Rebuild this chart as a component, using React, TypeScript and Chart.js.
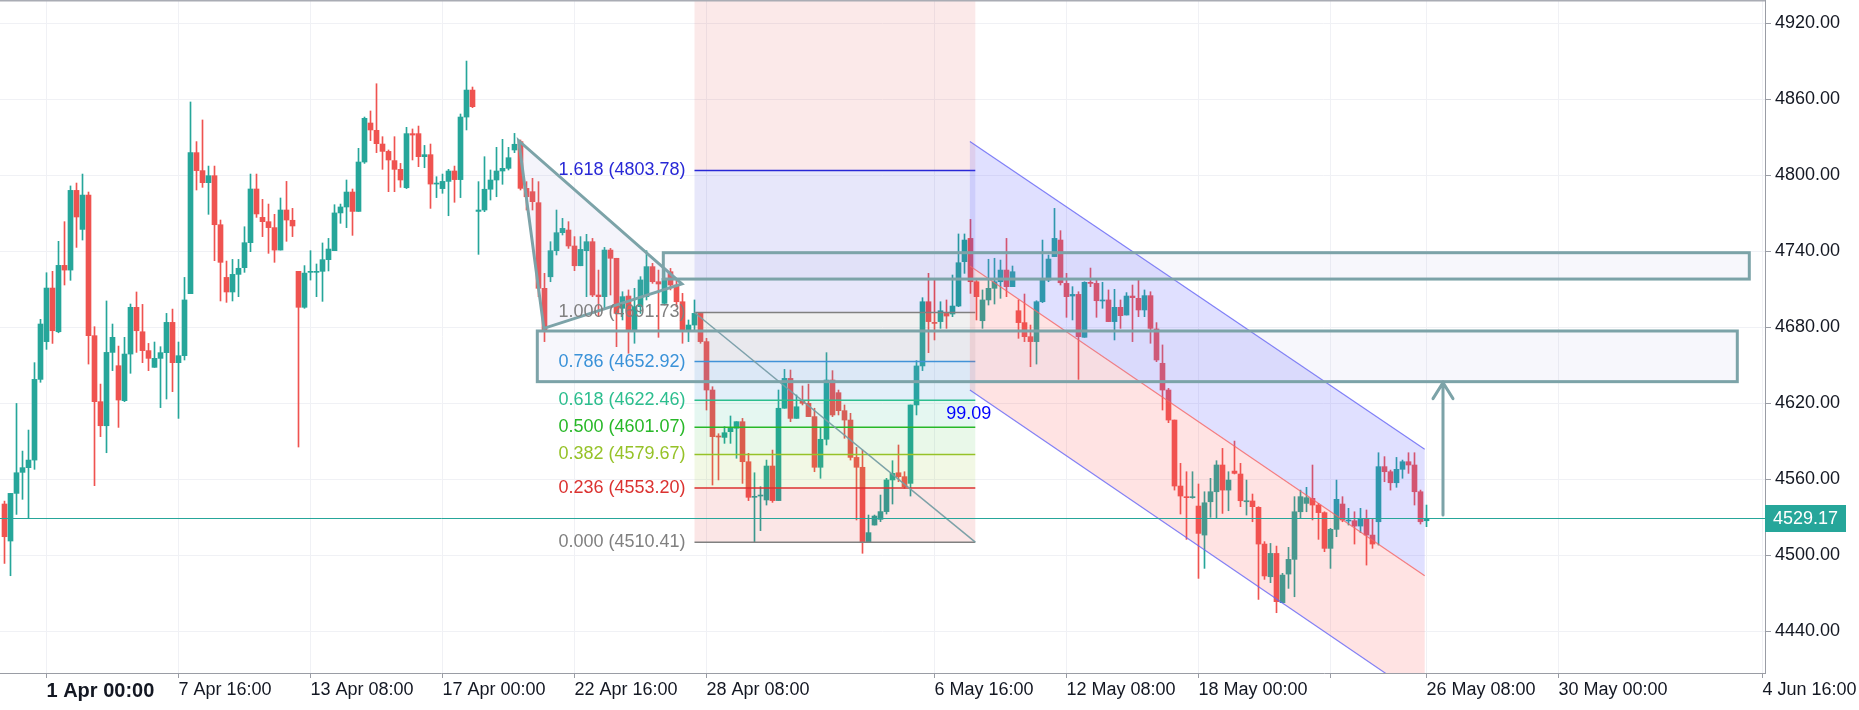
import React, { useEffect, useRef } from 'react';
import { Chart, registerables } from 'chart.js';

Chart.register(...registerables);

// ---------------- DATA ----------------
const FIRST_BAR = -7; // bar index of first candle (0 = "1 Apr 00:00")

const OPENS = [
  4540.5, 4511.3, 4548.9, 4565.5, 4569.2, 4575.2, 4638.9,
  4668.7, 4711.0, 4676.5, 4728.9, 4725.2, 4788.1, 4757.3, 4784.4, 4673.4, 4621.3,
  4602.3, 4660.2, 4649.7, 4622.1, 4658.9, 4695.8, 4676.5, 4661.6, 4648.4, 4655.5,
  4660.0, 4683.9, 4652.1, 4657.6, 4706.6, 4817.9, 4803.7, 4794.2, 4799.7, 4761.0,
  4719.4, 4707.9, 4721.8, 4727.1, 4746.8, 4789.2, 4766.8, 4763.4, 4758.7, 4741.0,
  4772.6, 4764.5, 4724.2, 4695.8, 4723.4, 4723.4, 4724.2, 4733.4, 4740.5, 4770.3,
  4775.0, 4786.8, 4771.5, 4810.5, 4841.3, 4835.5, 4824.7, 4818.9, 4811.6, 4804.7,
  4790.2, 4832.9, 4832.9, 4814.7, 4816.3, 4793.1, 4789.5, 4795.2, 4803.4, 4796.6,
  4846.0, 4867.3, 4771.5, 4772.6, 4789.0, 4796.3, 4803.4, 4805.5, 4820.0, 4826.6,
  4789.7, 4787.1, 4778.4, 4710.8, 4719.9, 4740.5, 4754.7, 4756.8, 4744.2, 4728.6,
  4740.5, 4747.6, 4705.5, 4704.2, 4741.0, 4734.5, 4695.0, 4704.7, 4677.9, 4696.3,
  4704.2, 4727.9, 4716.0, 4698.9, 4723.9, 4713.4, 4700.2, 4677.9, 4681.8, 4691.0,
  4668.7, 4630.5, 4594.2, 4593.1, 4597.6, 4600.3, 4605.5, 4573.9, 4545.8, 4546.8,
  4543.7, 4570.5, 4543.2, 4616.1, 4639.7, 4608.1, 4622.1, 4620.0, 4609.5, 4569.5,
  4591.6, 4638.4, 4628.4, 4614.2, 4606.8, 4577.3, 4569.5, 4510.8, 4523.9, 4528.4,
  4534.5, 4559.5, 4565.2, 4562.1, 4556.8, 4618.7, 4649.5, 4700.2, 4683.7, 4684.5,
  4691.0, 4690.5, 4696.8, 4731.8, 4750.2, 4716.0, 4685.2, 4701.6, 4710.8, 4716.0,
  4725.2, 4712.1, 4693.1, 4683.7, 4672.6, 4668.7, 4700.2, 4717.3, 4735.8, 4748.9,
  4714.7, 4704.7, 4706.0, 4672.1, 4715.5, 4714.7, 4700.8, 4701.6, 4684.5, 4695.8,
  4689.7, 4704.7, 4702.9, 4693.7, 4705.0, 4678.7, 4651.6, 4630.5, 4606.8, 4554.7,
  4546.3, 4545.5, 4538.9, 4516.0, 4542.3, 4550.2, 4571.3, 4551.5, 4566.5, 4564.2,
  4542.3, 4542.9, 4537.9, 4508.9, 4483.1, 4501.5, 4462.6, 4485.2, 4496.8, 4534.4,
  4541.0, 4545.0, 4539.7, 4533.7, 4505.5, 4520.5, 4540.5, 4527.1, 4527.3, 4523.1,
  4529.2, 4516.0, 4526.5, 4570.0, 4566.0, 4557.3, 4567.9, 4573.9, 4571.3, 4550.2,
  4527.3,
];

const HIGHS = [
  4542.8, 4548.9, 4619.9, 4582.3, 4598.9, 4652.1, 4686.3,
  4723.1, 4724.2, 4747.9, 4763.4, 4791.6, 4793.9, 4801.0, 4786.8, 4680.5, 4635.2,
  4700.8, 4682.6, 4665.2, 4672.1, 4698.4, 4707.9, 4698.1, 4667.3, 4668.4, 4664.7,
  4691.0, 4694.4, 4668.4, 4719.4, 4857.9, 4826.6, 4843.7, 4807.3, 4807.3, 4764.7,
  4732.3, 4733.6, 4733.6, 4759.4, 4801.0, 4801.0, 4781.0, 4777.3, 4769.2, 4782.1,
  4795.2, 4773.9, 4724.2, 4728.7, 4740.5, 4730.0, 4746.6, 4750.2, 4776.8, 4777.3,
  4796.3, 4789.2, 4821.3, 4846.0, 4850.8, 4872.3, 4830.5, 4820.0, 4830.5, 4809.4,
  4837.9, 4836.6, 4838.9, 4823.6, 4824.7, 4798.9, 4801.0, 4804.7, 4807.3, 4848.4,
  4890.2, 4869.7, 4795.0, 4814.7, 4804.2, 4822.1, 4828.4, 4822.1, 4833.1, 4827.9,
  4795.0, 4797.6, 4795.0, 4722.6, 4747.6, 4772.6, 4766.0, 4763.4, 4751.6, 4751.6,
  4753.4, 4750.2, 4725.2, 4743.1, 4742.3, 4734.5, 4708.1, 4709.5, 4710.8, 4720.0,
  4740.5, 4730.5, 4725.2, 4725.2, 4726.5, 4717.3, 4706.8, 4685.8, 4701.6, 4691.0,
  4671.3, 4633.1, 4596.0, 4601.6, 4610.0, 4605.5, 4608.1, 4580.5, 4565.2, 4554.2,
  4575.2, 4583.1, 4630.5, 4646.8, 4646.3, 4626.6, 4633.7, 4635.2, 4616.1, 4600.3,
  4660.0, 4645.8, 4630.5, 4618.7, 4612.1, 4585.2, 4583.1, 4531.8, 4531.8, 4547.6,
  4560.8, 4574.7, 4587.1, 4566.0, 4618.7, 4653.7, 4703.4, 4722.6, 4717.3, 4700.2,
  4701.6, 4721.3, 4753.7, 4753.7, 4765.2, 4718.7, 4709.5, 4733.7, 4734.5, 4733.1,
  4750.2, 4728.4, 4701.6, 4706.3, 4681.8, 4701.0, 4748.9, 4737.1, 4773.9, 4756.3,
  4722.6, 4712.1, 4708.1, 4716.0, 4726.8, 4717.9, 4715.5, 4709.5, 4710.0, 4701.6,
  4707.4, 4713.4, 4717.3, 4709.5, 4708.1, 4683.7, 4666.1, 4631.8, 4606.8, 4572.6,
  4566.0, 4566.0, 4556.3, 4550.2, 4560.8, 4574.7, 4584.4, 4566.0, 4590.2, 4572.6,
  4559.4, 4548.4, 4538.4, 4510.8, 4509.4, 4507.3, 4485.8, 4506.3, 4546.3, 4551.5,
  4553.7, 4571.3, 4541.0, 4534.4, 4521.3, 4559.4, 4546.3, 4537.1, 4534.4, 4537.1,
  4535.8, 4529.2, 4581.0, 4577.9, 4567.3, 4577.3, 4575.2, 4581.0, 4581.0, 4551.5,
  4539.7,
];

const LOWS = [
  4493.6, 4483.9, 4532.3, 4544.2, 4529.7, 4567.9, 4636.6,
  4662.6, 4667.3, 4675.7, 4713.4, 4717.1, 4743.1, 4748.9, 4651.0, 4555.0, 4593.7,
  4581.0, 4645.8, 4601.0, 4621.3, 4643.7, 4660.2, 4652.1, 4645.8, 4648.4, 4616.6,
  4623.4, 4629.2, 4608.1, 4654.2, 4706.6, 4788.4, 4790.5, 4769.2, 4732.6, 4700.8,
  4699.7, 4700.8, 4704.2, 4723.4, 4739.7, 4766.8, 4751.6, 4738.4, 4731.3, 4741.0,
  4747.9, 4751.6, 4585.5, 4695.0, 4717.3, 4704.2, 4700.5, 4724.5, 4740.5, 4762.1,
  4758.7, 4752.6, 4771.5, 4809.4, 4827.4, 4817.9, 4804.7, 4787.1, 4787.1, 4790.5,
  4789.5, 4812.1, 4806.8, 4806.0, 4773.9, 4782.4, 4785.8, 4768.1, 4778.7, 4782.4,
  4835.8, 4853.4, 4737.6, 4771.3, 4780.5, 4783.1, 4792.9, 4804.2, 4817.9, 4788.4,
  4772.6, 4772.6, 4704.2, 4668.7, 4716.0, 4737.1, 4752.9, 4742.3, 4724.7, 4728.6,
  4704.2, 4704.2, 4688.4, 4695.0, 4705.5, 4664.7, 4685.8, 4659.5, 4667.4, 4691.0,
  4701.6, 4714.7, 4672.1, 4697.6, 4709.5, 4696.3, 4667.4, 4668.7, 4677.9, 4667.4,
  4614.7, 4555.5, 4559.5, 4588.4, 4588.4, 4576.6, 4556.8, 4543.2, 4510.8, 4519.5,
  4539.7, 4541.8, 4543.2, 4616.1, 4605.5, 4608.1, 4618.7, 4609.5, 4566.0, 4560.8,
  4587.1, 4609.5, 4610.8, 4592.4, 4575.2, 4527.9, 4501.6, 4510.8, 4523.9, 4526.6,
  4532.6, 4540.5, 4558.1, 4552.9, 4546.8, 4610.8, 4645.8, 4660.0, 4670.0, 4679.2,
  4679.2, 4688.4, 4696.3, 4722.6, 4706.8, 4685.8, 4679.2, 4697.6, 4698.4, 4702.9,
  4704.2, 4712.1, 4671.3, 4668.7, 4648.9, 4651.0, 4699.5, 4716.0, 4735.8, 4713.4,
  4687.9, 4685.8, 4638.9, 4672.1, 4712.1, 4687.9, 4695.0, 4684.5, 4670.0, 4679.2,
  4689.7, 4668.7, 4688.4, 4688.4, 4667.4, 4652.9, 4614.7, 4604.7, 4551.5, 4532.6,
  4512.6, 4545.0, 4481.8, 4489.7, 4530.0, 4529.2, 4533.1, 4535.2, 4564.2, 4538.4,
  4531.8, 4526.5, 4465.2, 4481.0, 4478.4, 4454.7, 4462.6, 4473.9, 4467.3, 4529.2,
  4534.4, 4527.9, 4512.6, 4502.9, 4489.7, 4514.7, 4526.5, 4523.9, 4508.9, 4517.9,
  4492.3, 4505.5, 4508.1, 4558.1, 4551.5, 4553.7, 4560.8, 4564.7, 4539.7, 4524.7,
  4522.6,
];

const CLOSES = [
  4514.7, 4548.9, 4565.2, 4569.2, 4575.2, 4638.9, 4682.6,
  4711.0, 4677.3, 4728.9, 4725.2, 4788.1, 4767.1, 4784.4, 4673.4, 4621.3, 4602.3,
  4660.2, 4672.1, 4622.6, 4658.9, 4695.8, 4677.3, 4661.6, 4655.5, 4655.5, 4660.0,
  4683.9, 4652.1, 4657.6, 4701.6, 4817.9, 4803.7, 4794.2, 4799.7, 4761.0, 4731.3,
  4707.9, 4721.8, 4726.6, 4746.8, 4789.2, 4769.5, 4763.4, 4758.7, 4741.0, 4772.6,
  4764.7, 4760.0, 4695.8, 4722.8, 4724.2, 4724.2, 4733.4, 4741.8, 4770.3, 4775.0,
  4786.8, 4771.5, 4810.5, 4845.0, 4835.8, 4825.0, 4818.9, 4812.1, 4804.7, 4796.3,
  4832.9, 4831.8, 4814.7, 4816.3, 4793.1, 4793.7, 4795.2, 4803.4, 4796.6, 4846.0,
  4867.3, 4854.2, 4772.6, 4789.0, 4796.3, 4803.4, 4805.5, 4813.9, 4824.5, 4789.7,
  4783.1, 4779.2, 4710.8, 4677.9, 4740.5, 4754.7, 4758.1, 4744.2, 4728.6, 4741.5,
  4747.6, 4705.5, 4704.2, 4741.0, 4734.5, 4691.0, 4704.2, 4677.9, 4696.3, 4717.4,
  4727.9, 4716.0, 4714.2, 4718.7, 4713.4, 4700.2, 4677.9, 4681.8, 4691.0, 4668.7,
  4630.5, 4593.7, 4593.4, 4596.8, 4600.3, 4605.5, 4573.9, 4545.8, 4546.3, 4547.4,
  4570.5, 4543.2, 4616.1, 4639.7, 4608.1, 4617.3, 4620.0, 4609.5, 4569.5, 4591.6,
  4638.4, 4610.8, 4614.2, 4606.8, 4577.3, 4569.5, 4510.8, 4517.9, 4531.0, 4534.5,
  4559.5, 4564.7, 4562.1, 4554.2, 4618.7, 4649.5, 4700.2, 4684.5, 4683.1, 4693.1,
  4688.9, 4696.8, 4731.0, 4748.9, 4716.0, 4704.2, 4701.6, 4710.8, 4716.0, 4725.2,
  4712.1, 4723.9, 4683.7, 4672.6, 4668.7, 4700.2, 4717.3, 4733.9, 4750.2, 4715.2,
  4704.2, 4706.0, 4672.6, 4715.5, 4714.7, 4701.0, 4701.6, 4684.5, 4695.8, 4689.2,
  4704.7, 4703.4, 4693.7, 4705.0, 4679.2, 4654.2, 4630.5, 4606.8, 4554.7, 4546.8,
  4545.5, 4546.3, 4517.3, 4541.5, 4550.2, 4571.3, 4551.5, 4559.4, 4564.7, 4543.1,
  4543.1, 4538.4, 4508.9, 4483.7, 4501.5, 4463.4, 4484.4, 4496.8, 4534.4, 4546.3,
  4545.5, 4539.7, 4533.7, 4505.5, 4520.5, 4544.2, 4527.9, 4527.9, 4523.1, 4529.2,
  4516.0, 4508.9, 4570.0, 4566.0, 4557.3, 4567.9, 4573.9, 4571.3, 4550.2, 4526.5,
  4529.2,
];

const PRICE_TICKS = [4440, 4500, 4560, 4620, 4680, 4740, 4800, 4860, 4920];
const PRICE_MIN = 4407.1;
const PRICE_MAX = 4938.4;

const TIME_TICK_BARS = [0, 22, 44, 66, 88, 110, 148, 170, 192, 214, 230, 252, 286];
const TIME_TICK_LABELS = [
  '1 Apr 00:00', '7 Apr 16:00', '13 Apr 08:00', '17 Apr 00:00', '22 Apr 16:00',
  '28 Apr 08:00', '6 May 16:00', '12 May 08:00', '18 May 00:00', '',
  '26 May 08:00', '30 May 00:00', '4 Jun 16:00',
];
const BAR_MIN = -7.75;
const BAR_MAX = 286.417;

const LAST_PRICE = 4529.17;

// Fibonacci retracement (anchored bars, level ratios and prices)
const FIB_BARS = [108, 154.8];
const FIB_RATIOS = ['0.000', '0.236', '0.382', '0.500', '0.618', '0.786', '1.000', '1.618', '2.618'];
const FIB_PRICES = [4510.41, 4553.2, 4579.67, 4601.07, 4622.46, 4652.92, 4691.73, 4803.78, 4985.1];
const FIB_COLORS = [
  [128, 128, 128], [219, 50, 48], [150, 194, 40], [40, 184, 40], [44, 190, 142],
  [58, 146, 216], [128, 128, 128], [40, 40, 214], [219, 58, 52],
];
const FIB_FILL_ALPHA = [0, 0.12, 0.12, 0.1, 0.12, 0.15, 0.12, 0.11, 0.11];

// Triangle pattern vertices [bar, price]
const TRIANGLE = [[78.7, 4827.3], [82.9, 4679.2], [105.9, 4714.2]];
// Zones [barStart, barEnd, priceLow, priceHigh]
const ZONES = [[102.8, 283.8, 4718.1, 4738.9], [81.8, 281.8, 4637.1, 4677.1]];
// Parallel channel
const CHANNEL_BARS = [153.9, 229.7];
const CHANNEL_UPPER = [4826.6, 4583.7];
const CHANNEL_MID = [4728.4, 4483.9];
const CHANNEL_LOWER = [4630.5, 4385.8];
const CHANNEL_NOTE = { bar: 153.7, price: 4611.5, text: '99.09' };
// Target arrow
const ARROW = { bar: 232.75, from: 4531.8, to: 4637.1 };

// ---------------- STYLE ----------------
const UP = '#26a69a';
const DOWN = '#ef5350';
const FONT = '"Liberation Sans", Arial, sans-serif';
const DRAW = 'rgb(124,163,168)';

function rgba(c: number[], a: number) {
  return `rgba(${c[0]},${c[1]},${c[2]},${a})`;
}

const drawingsPlugin = {
  id: 'drawings',
  afterDatasetsDraw(chart: any) {
    const { ctx, chartArea: a } = chart;
    const xs = chart.scales.x;
    const ys = chart.scales.y;
    const X = (b: number) => xs.getPixelForValue(b);
    const Y = (p: number) => ys.getPixelForValue(p);

    ctx.save();
    ctx.beginPath();
    ctx.rect(a.left, a.top, a.right - a.left, a.bottom - a.top);
    ctx.clip();

    // ---- Fib retracement ----
    const fx0 = X(FIB_BARS[0]);
    const fx1 = X(FIB_BARS[1]);
    for (let k = 1; k < FIB_PRICES.length; k++) {
      const yt = Y(FIB_PRICES[k]);
      const yb = Y(FIB_PRICES[k - 1]);
      ctx.fillStyle = rgba(FIB_COLORS[k], FIB_FILL_ALPHA[k]);
      ctx.fillRect(fx0, yt, fx1 - fx0, yb - yt);
    }
    ctx.lineWidth = 1.5;
    for (let k = 0; k < FIB_PRICES.length; k++) {
      const yy = Y(FIB_PRICES[k]);
      if (yy < a.top || yy > a.bottom) continue;
      ctx.strokeStyle = rgba(FIB_COLORS[k], 1);
      ctx.beginPath();
      ctx.moveTo(fx0, yy);
      ctx.lineTo(fx1, yy);
      ctx.stroke();
    }
    // trend line of the fib
    ctx.strokeStyle = 'rgba(118,158,164,0.95)';
    ctx.lineWidth = 1.5;
    ctx.beginPath();
    ctx.moveTo(fx0, Y(FIB_PRICES[6]));
    ctx.lineTo(fx1, Y(FIB_PRICES[0]));
    ctx.stroke();

    // ---- Channel ----
    const cx0 = X(CHANNEL_BARS[0]);
    const cx1 = X(CHANNEL_BARS[1]);
    ctx.fillStyle = 'rgba(90,90,255,0.19)';
    ctx.beginPath();
    ctx.moveTo(cx0, Y(CHANNEL_UPPER[0]));
    ctx.lineTo(cx1, Y(CHANNEL_UPPER[1]));
    ctx.lineTo(cx1, Y(CHANNEL_MID[1]));
    ctx.lineTo(cx0, Y(CHANNEL_MID[0]));
    ctx.closePath();
    ctx.fill();
    ctx.fillStyle = 'rgba(255,82,82,0.16)';
    ctx.beginPath();
    ctx.moveTo(cx0, Y(CHANNEL_MID[0]));
    ctx.lineTo(cx1, Y(CHANNEL_MID[1]));
    ctx.lineTo(cx1, Y(CHANNEL_LOWER[1]));
    ctx.lineTo(cx0, Y(CHANNEL_LOWER[0]));
    ctx.closePath();
    ctx.fill();
    ctx.lineWidth = 1.2;
    const chLine = (p: number[], color: string) => {
      ctx.strokeStyle = color;
      ctx.beginPath();
      ctx.moveTo(cx0, Y(p[0]));
      ctx.lineTo(cx1, Y(p[1]));
      ctx.stroke();
    };
    chLine(CHANNEL_UPPER, 'rgba(100,100,245,0.8)');
    chLine(CHANNEL_MID, 'rgba(245,100,100,0.8)');
    chLine(CHANNEL_LOWER, 'rgba(100,100,245,0.8)');

    // ---- Triangle ----
    ctx.beginPath();
    ctx.moveTo(X(TRIANGLE[0][0]), Y(TRIANGLE[0][1]));
    for (let k = 1; k < TRIANGLE.length; k++) ctx.lineTo(X(TRIANGLE[k][0]), Y(TRIANGLE[k][1]));
    ctx.closePath();
    ctx.fillStyle = 'rgba(150,150,215,0.1)';
    ctx.fill();
    ctx.strokeStyle = DRAW;
    ctx.lineWidth = 3;
    ctx.lineJoin = 'miter';
    ctx.stroke();

    // ---- Zones ----
    for (const z of ZONES) {
      const x0 = X(z[0]);
      const x1 = X(z[1]);
      const y0 = Y(z[3]);
      const y1 = Y(z[2]);
      ctx.fillStyle = 'rgba(150,150,215,0.08)';
      ctx.fillRect(x0, y0, x1 - x0, y1 - y0);
      ctx.strokeStyle = DRAW;
      ctx.lineWidth = 3;
      ctx.strokeRect(x0, y0, x1 - x0, y1 - y0);
    }

    // ---- Last price line ----
    const ly = Math.round(Y(LAST_PRICE)) + 0.5;
    ctx.strokeStyle = UP;
    ctx.lineWidth = 1;
    ctx.beginPath();
    ctx.moveTo(a.left, ly);
    ctx.lineTo(a.right, ly);
    ctx.stroke();

    // ---- Arrow ----
    const ax = X(ARROW.bar);
    const ay0 = Y(ARROW.from);
    const ay1 = Y(ARROW.to);
    ctx.strokeStyle = DRAW;
    ctx.lineWidth = 3;
    ctx.lineCap = 'round';
    ctx.beginPath();
    ctx.moveTo(ax, ay0);
    ctx.lineTo(ax, ay1 + 1);
    ctx.moveTo(ax - 10, ay1 + 17);
    ctx.lineTo(ax, ay1 + 1);
    ctx.lineTo(ax + 10, ay1 + 17);
    ctx.stroke();
    ctx.lineCap = 'butt';

    ctx.restore();

    // ---- Texts ----
    ctx.save();
    ctx.font = `18px ${FONT}`;
    ctx.textAlign = 'right';
    ctx.textBaseline = 'middle';
    for (let k = 0; k < FIB_PRICES.length; k++) {
      const yy = Y(FIB_PRICES[k]);
      if (yy < a.top || yy > a.bottom) continue;
      ctx.fillStyle = rgba(FIB_COLORS[k], 1);
      ctx.fillText(`${FIB_RATIOS[k]} (${FIB_PRICES[k].toFixed(2)})`, fx0 - 9, yy);
    }
    ctx.fillStyle = '#0000ff';
    ctx.textAlign = 'center';
    ctx.fillText(CHANNEL_NOTE.text, X(CHANNEL_NOTE.bar), Y(CHANNEL_NOTE.price));
    ctx.restore();
  },
  afterDraw(chart: any) {
    const { ctx, chartArea: a } = chart;
    const ys = chart.scales.y;
    const yy = ys.getPixelForValue(LAST_PRICE);
    ctx.save();
    // top border
    ctx.strokeStyle = '#a9acb4';
    ctx.lineWidth = 1.5;
    ctx.beginPath();
    ctx.moveTo(0, 0.75);
    ctx.lineTo(a.right, 0.75);
    ctx.stroke();
    // last price label
    ctx.fillStyle = UP;
    ctx.fillRect(a.right, Math.round(yy - 13.5), 81, 27);
    ctx.fillStyle = '#ffffff';
    ctx.font = `18px ${FONT}`;
    ctx.textAlign = 'left';
    ctx.textBaseline = 'middle';
    ctx.fillText(LAST_PRICE.toFixed(2), a.right + 8, yy + 1);
    ctx.restore();
  },
};

export default function App() {
  const ref = useRef<HTMLCanvasElement | null>(null);

  useEffect(() => {
    document.body.style.margin = '0';
    const canvas = ref.current;
    if (!canvas) return;

    const bars = OPENS.map((_, k) => FIRST_BAR + k);
    const bodies = bars.map((b, k) => ({ x: b, y: [OPENS[k], CLOSES[k]] }));
    const wicks = bars.map((b, k) => ({ x: b, y: [LOWS[k], HIGHS[k]] }));
    const colorFor = (ctx: any) => {
      const k = ctx.dataIndex;
      return CLOSES[k] >= OPENS[k] ? UP : DOWN;
    };

    const chart = new Chart(canvas, {
      type: 'bar',
      data: {
        datasets: [
          {
            data: bodies as any,
            backgroundColor: colorFor,
            borderWidth: 0,
            grouped: false,
            barPercentage: 1,
            categoryPercentage: 1,
            maxBarThickness: 5,
            minBarLength: 1,
            order: 1,
          } as any,
          {
            data: wicks as any,
            backgroundColor: colorFor,
            borderWidth: 0,
            grouped: false,
            barPercentage: 1,
            categoryPercentage: 1,
            maxBarThickness: 1,
            minBarLength: 1,
            order: 2,
          } as any,
        ],
      },
      options: {
        responsive: false,
        animation: false,
        devicePixelRatio: 1,
        events: [],
        layout: { padding: 0 },
        plugins: {
          legend: { display: false },
          tooltip: { enabled: false },
        },
        scales: {
          x: {
            type: 'linear',
            position: 'bottom',
            min: BAR_MIN,
            max: BAR_MAX,
            offset: false,
            grid: {
              color: '#f0f1f5',
              tickColor: '#9a9da5',
              tickLength: 5,
              drawTicks: true,
              offset: false,
            },
            border: { display: true, color: '#9a9da5', width: 1 },
            ticks: {
              autoSkip: false,
              maxRotation: 0,
              minRotation: 0,
              align: 'start',
              padding: 1,
              color: '#131722',
              font: (c: any) => (c.index === 0
                ? { family: FONT, size: 20, weight: 'bold' }
                : { family: FONT, size: 18, weight: 'normal' }),
              callback: (_v: any, i: number) => TIME_TICK_LABELS[i],
            },
            afterBuildTicks: (s: any) => {
              s.ticks = TIME_TICK_BARS.map((v) => ({ value: v }));
            },
            afterFit: (s: any) => {
              s.height = 37;
              s.paddingLeft = 0;
              s.paddingRight = 0;
            },
          } as any,
          y: {
            type: 'linear',
            position: 'right',
            min: PRICE_MIN,
            max: PRICE_MAX,
            grid: {
              color: '#f0f1f5',
              tickColor: '#9a9da5',
              tickLength: 6,
              drawTicks: true,
            },
            border: { display: true, color: '#9a9da5', width: 1 },
            ticks: {
              padding: 4,
              crossAlign: 'near',
              color: '#131722',
              font: { family: FONT, size: 18 },
              callback: (v: any) => Number(v).toFixed(2),
            },
            afterBuildTicks: (s: any) => {
              s.ticks = PRICE_TICKS.map((v) => ({ value: v }));
            },
            afterFit: (s: any) => {
              s.width = 94;
              s.paddingTop = 0;
              s.paddingBottom = 0;
            },
          } as any,
        },
      },
      plugins: [drawingsPlugin as any],
    });

    return () => chart.destroy();
  }, []);

  return (
    <canvas
      ref={ref}
      width={1859}
      height={710}
      style={{ display: 'block', width: 1859, height: 710 }}
    />
  );
}
